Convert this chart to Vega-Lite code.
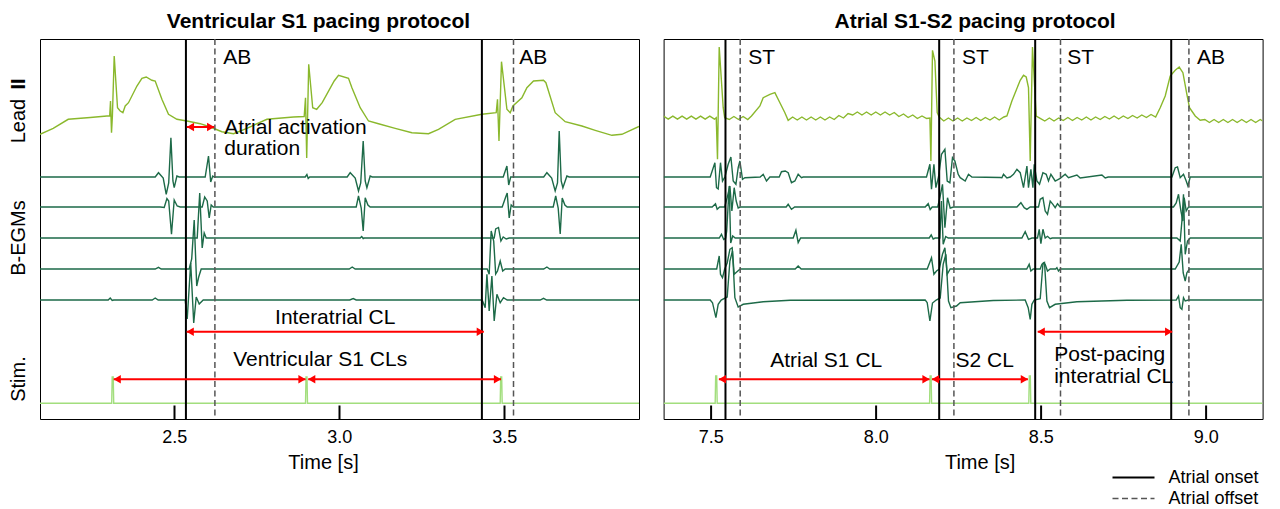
{
"$schema": "https://vega.github.io/schema/vega-lite/v6.json",
"autosize": {"type": "pad"},
"padding": {"left": 8, "top": 10, "right": 0, "bottom": 0},
"bounds": "flush",
"spacing": 24.6,
"resolve": {"scale": {"x": "independent", "y": "independent"}},
"datasets": {
"tr": [
{"p":"V","ch":"lead","t":2.0933,"v":284.7},{"p":"V","ch":"lead","t":2.1333,"v":290.7},{"p":"V","ch":"lead","t":2.1788,"v":299.7},{"p":"V","ch":"lead","t":2.2455,"v":301.5},{"p":"V","ch":"lead","t":2.2961,"v":303},{"p":"V","ch":"lead","t":2.3045,"v":303},{"p":"V","ch":"lead","t":2.3070,"v":318},{"p":"V","ch":"lead","t":2.3100,"v":286.3},{"p":"V","ch":"lead","t":2.3127,"v":303},{"p":"V","ch":"lead","t":2.3182,"v":363},{"p":"V","ch":"lead","t":2.3282,"v":311.3},{"p":"V","ch":"lead","t":2.3364,"v":308},{"p":"V","ch":"lead","t":2.3445,"v":306.3},{"p":"V","ch":"lead","t":2.3515,"v":313},{"p":"V","ch":"lead","t":2.3615,"v":316.3},{"p":"V","ch":"lead","t":2.3870,"v":333},{"p":"V","ch":"lead","t":2.4021,"v":340.7},{"p":"V","ch":"lead","t":2.4152,"v":342},{"p":"V","ch":"lead","t":2.4324,"v":338.7},{"p":"V","ch":"lead","t":2.4424,"v":338},{"p":"V","ch":"lead","t":2.4627,"v":319.7},{"p":"V","ch":"lead","t":2.4827,"v":304.7},{"p":"V","ch":"lead","t":2.5082,"v":299.7},{"p":"V","ch":"lead","t":2.5385,"v":298},{"p":"V","ch":"lead","t":2.5788,"v":295.3},{"p":"V","ch":"lead","t":2.6091,"v":292},{"p":"V","ch":"lead","t":2.6445,"v":287.3},{"p":"V","ch":"lead","t":2.6797,"v":285.3},{"p":"V","ch":"lead","t":2.7203,"v":290.7},{"p":"V","ch":"lead","t":2.7809,"v":299.7},{"p":"V","ch":"lead","t":2.8615,"v":302},{"p":"V","ch":"lead","t":2.8939,"v":302.5},{"p":"V","ch":"lead","t":2.8979,"v":321.3},{"p":"V","ch":"lead","t":2.9015,"v":261},{"p":"V","ch":"lead","t":2.9076,"v":354.7},{"p":"V","ch":"lead","t":2.9197,"v":311.3},{"p":"V","ch":"lead","t":2.9318,"v":309.7},{"p":"V","ch":"lead","t":2.9485,"v":316.3},{"p":"V","ch":"lead","t":2.9848,"v":338},{"p":"V","ch":"lead","t":2.9979,"v":343.7},{"p":"V","ch":"lead","t":3.0282,"v":340.7},{"p":"V","ch":"lead","t":3.0385,"v":331.3},{"p":"V","ch":"lead","t":3.0636,"v":311.3},{"p":"V","ch":"lead","t":3.0888,"v":298},{"p":"V","ch":"lead","t":3.1191,"v":295.3},{"p":"V","ch":"lead","t":3.1697,"v":290.7},{"p":"V","ch":"lead","t":3.2203,"v":286.3},{"p":"V","ch":"lead","t":3.2706,"v":285.3},{"p":"V","ch":"lead","t":3.3009,"v":289.7},{"p":"V","ch":"lead","t":3.3515,"v":299.7},{"p":"V","ch":"lead","t":3.4324,"v":304.7},{"p":"V","ch":"lead","t":3.4758,"v":306.3},{"p":"V","ch":"lead","t":3.4797,"v":319.7},{"p":"V","ch":"lead","t":3.4842,"v":278},{"p":"V","ch":"lead","t":3.4918,"v":357.3},{"p":"V","ch":"lead","t":3.5082,"v":309.7},{"p":"V","ch":"lead","t":3.5182,"v":306.3},{"p":"V","ch":"lead","t":3.5264,"v":313},{"p":"V","ch":"lead","t":3.5536,"v":321.3},{"p":"V","ch":"lead","t":3.5688,"v":331.3},{"p":"V","ch":"lead","t":3.5888,"v":338},{"p":"V","ch":"lead","t":3.6191,"v":338.7},{"p":"V","ch":"lead","t":3.6264,"v":336.3},{"p":"V","ch":"lead","t":3.6545,"v":306.3},{"p":"V","ch":"lead","t":3.6848,"v":297.3},{"p":"V","ch":"lead","t":3.7355,"v":293},{"p":"V","ch":"lead","t":3.7758,"v":288.7},{"p":"V","ch":"lead","t":3.8264,"v":283.7},{"p":"V","ch":"lead","t":3.8567,"v":284.7},{"p":"V","ch":"lead","t":3.9085,"v":292.5},
{"p":"V","ch":"e1","t":2.0933,"v":242},{"p":"V","ch":"e1","t":2.4424,"v":242},{"p":"V","ch":"e1","t":2.4524,"v":246.3},{"p":"V","ch":"e1","t":2.4667,"v":241},{"p":"V","ch":"e1","t":2.4758,"v":224.7},{"p":"V","ch":"e1","t":2.4833,"v":236},{"p":"V","ch":"e1","t":2.4900,"v":281.3},{"p":"V","ch":"e1","t":2.4961,"v":238},{"p":"V","ch":"e1","t":2.5000,"v":231.3},{"p":"V","ch":"e1","t":2.5082,"v":243},{"p":"V","ch":"e1","t":2.5152,"v":242},{"p":"V","ch":"e1","t":2.5939,"v":242},{"p":"V","ch":"e1","t":2.6039,"v":263},{"p":"V","ch":"e1","t":2.6106,"v":237},{"p":"V","ch":"e1","t":2.6167,"v":243},{"p":"V","ch":"e1","t":2.6212,"v":242},{"p":"V","ch":"e1","t":2.8970,"v":242},{"p":"V","ch":"e1","t":2.9021,"v":244.5},{"p":"V","ch":"e1","t":2.9061,"v":240.5},{"p":"V","ch":"e1","t":2.9106,"v":242},{"p":"V","ch":"e1","t":3.0242,"v":242},{"p":"V","ch":"e1","t":3.0333,"v":246.3},{"p":"V","ch":"e1","t":3.0485,"v":241},{"p":"V","ch":"e1","t":3.0585,"v":228},{"p":"V","ch":"e1","t":3.0652,"v":236},{"p":"V","ch":"e1","t":3.0727,"v":278},{"p":"V","ch":"e1","t":3.0788,"v":238},{"p":"V","ch":"e1","t":3.0839,"v":231.3},{"p":"V","ch":"e1","t":3.0939,"v":243},{"p":"V","ch":"e1","t":3.1000,"v":242},{"p":"V","ch":"e1","t":3.4970,"v":242},{"p":"V","ch":"e1","t":3.5082,"v":253},{"p":"V","ch":"e1","t":3.5136,"v":234},{"p":"V","ch":"e1","t":3.5197,"v":242},{"p":"V","ch":"e1","t":3.6197,"v":242},{"p":"V","ch":"e1","t":3.6294,"v":246.3},{"p":"V","ch":"e1","t":3.6439,"v":241},{"p":"V","ch":"e1","t":3.6545,"v":228},{"p":"V","ch":"e1","t":3.6615,"v":236},{"p":"V","ch":"e1","t":3.6667,"v":288},{"p":"V","ch":"e1","t":3.6727,"v":238},{"p":"V","ch":"e1","t":3.6779,"v":231.3},{"p":"V","ch":"e1","t":3.6900,"v":243},{"p":"V","ch":"e1","t":3.6970,"v":242},{"p":"V","ch":"e1","t":3.9085,"v":242},
{"p":"V","ch":"e2","t":2.0933,"v":212},{"p":"V","ch":"e2","t":2.4576,"v":212},{"p":"V","ch":"e2","t":2.4697,"v":211.5},{"p":"V","ch":"e2","t":2.4779,"v":220.5},{"p":"V","ch":"e2","t":2.4833,"v":218},{"p":"V","ch":"e2","t":2.4918,"v":184.7},{"p":"V","ch":"e2","t":2.5000,"v":219},{"p":"V","ch":"e2","t":2.5091,"v":213},{"p":"V","ch":"e2","t":2.5182,"v":212},{"p":"V","ch":"e2","t":2.5848,"v":212},{"p":"V","ch":"e2","t":2.5924,"v":222},{"p":"V","ch":"e2","t":2.6000,"v":218},{"p":"V","ch":"e2","t":2.6061,"v":201},{"p":"V","ch":"e2","t":2.6121,"v":214},{"p":"V","ch":"e2","t":2.6182,"v":212},{"p":"V","ch":"e2","t":3.0515,"v":212},{"p":"V","ch":"e2","t":3.0585,"v":223},{"p":"V","ch":"e2","t":3.0667,"v":211},{"p":"V","ch":"e2","t":3.0727,"v":188},{"p":"V","ch":"e2","t":3.0788,"v":221.3},{"p":"V","ch":"e2","t":3.0870,"v":214},{"p":"V","ch":"e2","t":3.0939,"v":212},{"p":"V","ch":"e2","t":3.4939,"v":212},{"p":"V","ch":"e2","t":3.5045,"v":222},{"p":"V","ch":"e2","t":3.5091,"v":226},{"p":"V","ch":"e2","t":3.5152,"v":201},{"p":"V","ch":"e2","t":3.5212,"v":214},{"p":"V","ch":"e2","t":3.5273,"v":212},{"p":"V","ch":"e2","t":3.6485,"v":212},{"p":"V","ch":"e2","t":3.6561,"v":223},{"p":"V","ch":"e2","t":3.6636,"v":211},{"p":"V","ch":"e2","t":3.6697,"v":185},{"p":"V","ch":"e2","t":3.6758,"v":221},{"p":"V","ch":"e2","t":3.6839,"v":214},{"p":"V","ch":"e2","t":3.6909,"v":212},{"p":"V","ch":"e2","t":3.9085,"v":212},
{"p":"V","ch":"e3","t":2.0933,"v":181},{"p":"V","ch":"e3","t":2.5697,"v":181},{"p":"V","ch":"e3","t":2.5773,"v":226},{"p":"V","ch":"e3","t":2.5848,"v":171},{"p":"V","ch":"e3","t":2.5909,"v":186},{"p":"V","ch":"e3","t":2.5970,"v":181},{"p":"V","ch":"e3","t":3.0636,"v":181},{"p":"V","ch":"e3","t":3.0682,"v":182.5},{"p":"V","ch":"e3","t":3.0727,"v":180.5},{"p":"V","ch":"e3","t":3.0758,"v":181},{"p":"V","ch":"e3","t":3.4697,"v":181},{"p":"V","ch":"e3","t":3.4742,"v":190},{"p":"V","ch":"e3","t":3.4827,"v":191.5},{"p":"V","ch":"e3","t":3.4900,"v":178},{"p":"V","ch":"e3","t":3.4970,"v":182},{"p":"V","ch":"e3","t":3.5061,"v":180},{"p":"V","ch":"e3","t":3.5152,"v":181},{"p":"V","ch":"e3","t":3.9085,"v":181},
{"p":"V","ch":"e4","t":2.0933,"v":150},{"p":"V","ch":"e4","t":2.4424,"v":150},{"p":"V","ch":"e4","t":2.4524,"v":151.7},{"p":"V","ch":"e4","t":2.4606,"v":150},{"p":"V","ch":"e4","t":2.5455,"v":150},{"p":"V","ch":"e4","t":2.5530,"v":160},{"p":"V","ch":"e4","t":2.5606,"v":199},{"p":"V","ch":"e4","t":2.5682,"v":133},{"p":"V","ch":"e4","t":2.5742,"v":142},{"p":"V","ch":"e4","t":2.5818,"v":150},{"p":"V","ch":"e4","t":3.0303,"v":150},{"p":"V","ch":"e4","t":3.0394,"v":152},{"p":"V","ch":"e4","t":3.0485,"v":150},{"p":"V","ch":"e4","t":3.4485,"v":150},{"p":"V","ch":"e4","t":3.4545,"v":144.7},{"p":"V","ch":"e4","t":3.4606,"v":188},{"p":"V","ch":"e4","t":3.4682,"v":178},{"p":"V","ch":"e4","t":3.4742,"v":145},{"p":"V","ch":"e4","t":3.4797,"v":148},{"p":"V","ch":"e4","t":3.4879,"v":158},{"p":"V","ch":"e4","t":3.4955,"v":148},{"p":"V","ch":"e4","t":3.5030,"v":150},{"p":"V","ch":"e4","t":3.6197,"v":150},{"p":"V","ch":"e4","t":3.6294,"v":152},{"p":"V","ch":"e4","t":3.6379,"v":150},{"p":"V","ch":"e4","t":3.9085,"v":150},
{"p":"V","ch":"e5","t":2.0933,"v":119},{"p":"V","ch":"e5","t":2.3000,"v":119},{"p":"V","ch":"e5","t":2.3061,"v":121},{"p":"V","ch":"e5","t":2.3121,"v":118.5},{"p":"V","ch":"e5","t":2.3167,"v":119},{"p":"V","ch":"e5","t":2.4333,"v":119},{"p":"V","ch":"e5","t":2.4424,"v":121},{"p":"V","ch":"e5","t":2.4515,"v":119},{"p":"V","ch":"e5","t":2.5333,"v":119},{"p":"V","ch":"e5","t":2.5394,"v":100},{"p":"V","ch":"e5","t":2.5500,"v":156},{"p":"V","ch":"e5","t":2.5591,"v":96},{"p":"V","ch":"e5","t":2.5667,"v":122},{"p":"V","ch":"e5","t":2.5758,"v":115},{"p":"V","ch":"e5","t":2.5879,"v":119},{"p":"V","ch":"e5","t":3.0318,"v":119},{"p":"V","ch":"e5","t":3.0424,"v":120.5},{"p":"V","ch":"e5","t":3.0515,"v":119},{"p":"V","ch":"e5","t":3.4333,"v":119},{"p":"V","ch":"e5","t":3.4424,"v":111.3},{"p":"V","ch":"e5","t":3.4476,"v":144.7},{"p":"V","ch":"e5","t":3.4545,"v":108},{"p":"V","ch":"e5","t":3.4627,"v":143},{"p":"V","ch":"e5","t":3.4697,"v":98},{"p":"V","ch":"e5","t":3.4779,"v":124.7},{"p":"V","ch":"e5","t":3.4879,"v":116.3},{"p":"V","ch":"e5","t":3.4979,"v":121.3},{"p":"V","ch":"e5","t":3.5091,"v":119},{"p":"V","ch":"e5","t":3.6091,"v":119},{"p":"V","ch":"e5","t":3.6191,"v":120.7},{"p":"V","ch":"e5","t":3.6288,"v":119},{"p":"V","ch":"e5","t":3.9085,"v":119},
{"p":"V","ch":"stim","t":2.0933,"v":15.7},{"p":"V","ch":"stim","t":2.3106,"v":15.7},{"p":"V","ch":"stim","t":2.3121,"v":42},{"p":"V","ch":"stim","t":2.3152,"v":42},{"p":"V","ch":"stim","t":2.3167,"v":15.7},{"p":"V","ch":"stim","t":2.8979,"v":15.7},{"p":"V","ch":"stim","t":2.8994,"v":42},{"p":"V","ch":"stim","t":2.9024,"v":42},{"p":"V","ch":"stim","t":2.9039,"v":15.7},{"p":"V","ch":"stim","t":3.4879,"v":15.7},{"p":"V","ch":"stim","t":3.4894,"v":42},{"p":"V","ch":"stim","t":3.4924,"v":42},{"p":"V","ch":"stim","t":3.4939,"v":15.7},{"p":"V","ch":"stim","t":3.9085,"v":15.7},
{"p":"A","ch":"lead","t":7.357,"v":302.8},{"p":"A","ch":"lead","t":7.371,"v":299.8},{"p":"A","ch":"lead","t":7.385,"v":302.8},{"p":"A","ch":"lead","t":7.399,"v":299.8},{"p":"A","ch":"lead","t":7.413,"v":302.8},{"p":"A","ch":"lead","t":7.427,"v":299.8},{"p":"A","ch":"lead","t":7.441,"v":302.8},{"p":"A","ch":"lead","t":7.455,"v":299.8},{"p":"A","ch":"lead","t":7.469,"v":302.8},{"p":"A","ch":"lead","t":7.483,"v":299.8},{"p":"A","ch":"lead","t":7.497,"v":302.8},{"p":"A","ch":"lead","t":7.511,"v":299.8},{"p":"A","ch":"lead","t":7.5165,"v":301.3},{"p":"A","ch":"lead","t":7.5203,"v":259.7},{"p":"A","ch":"lead","t":7.5255,"v":372},{"p":"A","ch":"lead","t":7.5376,"v":311.3},{"p":"A","ch":"lead","t":7.5421,"v":301.3},{"p":"A","ch":"lead","t":7.556,"v":299.5},{"p":"A","ch":"lead","t":7.570,"v":302.5},{"p":"A","ch":"lead","t":7.584,"v":299.5},{"p":"A","ch":"lead","t":7.598,"v":302.5},{"p":"A","ch":"lead","t":7.612,"v":299.5},{"p":"A","ch":"lead","t":7.6233,"v":303},{"p":"A","ch":"lead","t":7.6488,"v":313},{"p":"A","ch":"lead","t":7.6588,"v":321.3},{"p":"A","ch":"lead","t":7.6791,"v":324.7},{"p":"A","ch":"lead","t":7.6942,"v":326.3},{"p":"A","ch":"lead","t":7.7094,"v":316.3},{"p":"A","ch":"lead","t":7.7245,"v":306.3},{"p":"A","ch":"lead","t":7.7345,"v":298.7},{"p":"A","ch":"lead","t":7.748,"v":302},{"p":"A","ch":"lead","t":7.762,"v":299},{"p":"A","ch":"lead","t":7.776,"v":302},{"p":"A","ch":"lead","t":7.790,"v":299},{"p":"A","ch":"lead","t":7.804,"v":302},{"p":"A","ch":"lead","t":7.818,"v":299},{"p":"A","ch":"lead","t":7.832,"v":302},{"p":"A","ch":"lead","t":7.846,"v":299},{"p":"A","ch":"lead","t":7.860,"v":302},{"p":"A","ch":"lead","t":7.874,"v":299.5},{"p":"A","ch":"lead","t":7.888,"v":303.5},{"p":"A","ch":"lead","t":7.902,"v":301},{"p":"A","ch":"lead","t":7.916,"v":305.5},{"p":"A","ch":"lead","t":7.930,"v":304},{"p":"A","ch":"lead","t":7.944,"v":307},{"p":"A","ch":"lead","t":7.958,"v":304},{"p":"A","ch":"lead","t":7.972,"v":307},{"p":"A","ch":"lead","t":7.986,"v":304},{"p":"A","ch":"lead","t":8.000,"v":307},{"p":"A","ch":"lead","t":8.014,"v":304},{"p":"A","ch":"lead","t":8.028,"v":307},{"p":"A","ch":"lead","t":8.042,"v":304},{"p":"A","ch":"lead","t":8.056,"v":306.5},{"p":"A","ch":"lead","t":8.070,"v":302.5},{"p":"A","ch":"lead","t":8.084,"v":305},{"p":"A","ch":"lead","t":8.098,"v":301.5},{"p":"A","ch":"lead","t":8.112,"v":304},{"p":"A","ch":"lead","t":8.126,"v":300.5},{"p":"A","ch":"lead","t":8.140,"v":303},{"p":"A","ch":"lead","t":8.154,"v":300.5},{"p":"A","ch":"lead","t":8.1639,"v":301},{"p":"A","ch":"lead","t":8.1670,"v":258},{"p":"A","ch":"lead","t":8.1718,"v":368.7},{"p":"A","ch":"lead","t":8.1791,"v":358},{"p":"A","ch":"lead","t":8.1861,"v":306.3},{"p":"A","ch":"lead","t":8.1921,"v":302},{"p":"A","ch":"lead","t":8.206,"v":298},{"p":"A","ch":"lead","t":8.220,"v":301},{"p":"A","ch":"lead","t":8.234,"v":298},{"p":"A","ch":"lead","t":8.248,"v":301},{"p":"A","ch":"lead","t":8.262,"v":298},{"p":"A","ch":"lead","t":8.276,"v":301},{"p":"A","ch":"lead","t":8.290,"v":298.5},{"p":"A","ch":"lead","t":8.304,"v":301.5},{"p":"A","ch":"lead","t":8.318,"v":298.5},{"p":"A","ch":"lead","t":8.332,"v":301.5},{"p":"A","ch":"lead","t":8.346,"v":299},{"p":"A","ch":"lead","t":8.360,"v":302},{"p":"A","ch":"lead","t":8.374,"v":299},{"p":"A","ch":"lead","t":8.388,"v":302},{"p":"A","ch":"lead","t":8.3973,"v":303},{"p":"A","ch":"lead","t":8.4124,"v":318},{"p":"A","ch":"lead","t":8.4224,"v":326.3},{"p":"A","ch":"lead","t":8.4376,"v":338.7},{"p":"A","ch":"lead","t":8.4476,"v":343.7},{"p":"A","ch":"lead","t":8.4558,"v":342},{"p":"A","ch":"lead","t":8.4627,"v":331.3},{"p":"A","ch":"lead","t":8.4679,"v":258},{"p":"A","ch":"lead","t":8.4748,"v":372},{"p":"A","ch":"lead","t":8.4861,"v":303},{"p":"A","ch":"lead","t":8.4982,"v":300.7},{"p":"A","ch":"lead","t":8.512,"v":298},{"p":"A","ch":"lead","t":8.526,"v":301},{"p":"A","ch":"lead","t":8.540,"v":298},{"p":"A","ch":"lead","t":8.554,"v":301},{"p":"A","ch":"lead","t":8.568,"v":298.5},{"p":"A","ch":"lead","t":8.582,"v":301.5},{"p":"A","ch":"lead","t":8.596,"v":298.5},{"p":"A","ch":"lead","t":8.610,"v":301.5},{"p":"A","ch":"lead","t":8.624,"v":299},{"p":"A","ch":"lead","t":8.638,"v":302},{"p":"A","ch":"lead","t":8.652,"v":299},{"p":"A","ch":"lead","t":8.666,"v":302},{"p":"A","ch":"lead","t":8.680,"v":299.5},{"p":"A","ch":"lead","t":8.694,"v":302.5},{"p":"A","ch":"lead","t":8.708,"v":300},{"p":"A","ch":"lead","t":8.722,"v":303},{"p":"A","ch":"lead","t":8.736,"v":300},{"p":"A","ch":"lead","t":8.750,"v":303},{"p":"A","ch":"lead","t":8.764,"v":300.5},{"p":"A","ch":"lead","t":8.778,"v":303.5},{"p":"A","ch":"lead","t":8.792,"v":301},{"p":"A","ch":"lead","t":8.806,"v":304},{"p":"A","ch":"lead","t":8.820,"v":301.5},{"p":"A","ch":"lead","t":8.834,"v":304.5},{"p":"A","ch":"lead","t":8.848,"v":302},{"p":"A","ch":"lead","t":8.8618,"v":311.3},{"p":"A","ch":"lead","t":8.8770,"v":323},{"p":"A","ch":"lead","t":8.8921,"v":343},{"p":"A","ch":"lead","t":8.9073,"v":348.7},{"p":"A","ch":"lead","t":8.9194,"v":352},{"p":"A","ch":"lead","t":8.9306,"v":346.3},{"p":"A","ch":"lead","t":8.9427,"v":324.7},{"p":"A","ch":"lead","t":8.9506,"v":311.3},{"p":"A","ch":"lead","t":8.9679,"v":303},{"p":"A","ch":"lead","t":8.9830,"v":298.7},{"p":"A","ch":"lead","t":8.997,"v":299.5},{"p":"A","ch":"lead","t":9.011,"v":296.5},{"p":"A","ch":"lead","t":9.025,"v":299.5},{"p":"A","ch":"lead","t":9.039,"v":296.5},{"p":"A","ch":"lead","t":9.053,"v":299.5},{"p":"A","ch":"lead","t":9.067,"v":296.5},{"p":"A","ch":"lead","t":9.081,"v":299.5},{"p":"A","ch":"lead","t":9.095,"v":296.5},{"p":"A","ch":"lead","t":9.109,"v":299.5},{"p":"A","ch":"lead","t":9.123,"v":296.5},{"p":"A","ch":"lead","t":9.137,"v":299.5},{"p":"A","ch":"lead","t":9.151,"v":296.5},{"p":"A","ch":"lead","t":9.165,"v":299.5},{"p":"A","ch":"lead","t":9.1721,"v":298},
{"p":"A","ch":"e1","t":7.3570,"v":242},{"p":"A","ch":"e1","t":7.4982,"v":242},{"p":"A","ch":"e1","t":7.5124,"v":256.3},{"p":"A","ch":"e1","t":7.5173,"v":231.3},{"p":"A","ch":"e1","t":7.5224,"v":230},{"p":"A","ch":"e1","t":7.5294,"v":256.3},{"p":"A","ch":"e1","t":7.5355,"v":238},{"p":"A","ch":"e1","t":7.5427,"v":242},{"p":"A","ch":"e1","t":7.5527,"v":254.7},{"p":"A","ch":"e1","t":7.5609,"v":262},{"p":"A","ch":"e1","t":7.5679,"v":238},{"p":"A","ch":"e1","t":7.5761,"v":234.7},{"p":"A","ch":"e1","t":7.5830,"v":251.3},{"p":"A","ch":"e1","t":7.5882,"v":258},{"p":"A","ch":"e1","t":7.5961,"v":239.7},{"p":"A","ch":"e1","t":7.6033,"v":241.3},{"p":"A","ch":"e1","t":7.6497,"v":242},{"p":"A","ch":"e1","t":7.6588,"v":244.7},{"p":"A","ch":"e1","t":7.6688,"v":238},{"p":"A","ch":"e1","t":7.6791,"v":242},{"p":"A","ch":"e1","t":7.7073,"v":242},{"p":"A","ch":"e1","t":7.7142,"v":247.3},{"p":"A","ch":"e1","t":7.7255,"v":248},{"p":"A","ch":"e1","t":7.7345,"v":246.3},{"p":"A","ch":"e1","t":7.7445,"v":236.3},{"p":"A","ch":"e1","t":7.7548,"v":238},{"p":"A","ch":"e1","t":7.7648,"v":244.7},{"p":"A","ch":"e1","t":7.7748,"v":241.3},{"p":"A","ch":"e1","t":7.7800,"v":242},{"p":"A","ch":"e1","t":8.1536,"v":242},{"p":"A","ch":"e1","t":8.1639,"v":254.7},{"p":"A","ch":"e1","t":8.1688,"v":229.7},{"p":"A","ch":"e1","t":8.1761,"v":254.7},{"p":"A","ch":"e1","t":8.1821,"v":231.3},{"p":"A","ch":"e1","t":8.1900,"v":242},{"p":"A","ch":"e1","t":8.1991,"v":264.7},{"p":"A","ch":"e1","t":8.2094,"v":269.7},{"p":"A","ch":"e1","t":8.2164,"v":238},{"p":"A","ch":"e1","t":8.2245,"v":236.3},{"p":"A","ch":"e1","t":8.2324,"v":261.3},{"p":"A","ch":"e1","t":8.2397,"v":258},{"p":"A","ch":"e1","t":8.2497,"v":244.7},{"p":"A","ch":"e1","t":8.2558,"v":241.3},{"p":"A","ch":"e1","t":8.2709,"v":238},{"p":"A","ch":"e1","t":8.2809,"v":244.7},{"p":"A","ch":"e1","t":8.2912,"v":242},{"p":"A","ch":"e1","t":8.3770,"v":241.5},{"p":"A","ch":"e1","t":8.3821,"v":241.3},{"p":"A","ch":"e1","t":8.3870,"v":244.7},{"p":"A","ch":"e1","t":8.3973,"v":241},{"p":"A","ch":"e1","t":8.4073,"v":242},{"p":"A","ch":"e1","t":8.4173,"v":244.7},{"p":"A","ch":"e1","t":8.4276,"v":249.7},{"p":"A","ch":"e1","t":8.4376,"v":246.3},{"p":"A","ch":"e1","t":8.4476,"v":231.3},{"p":"A","ch":"e1","t":8.4527,"v":242},{"p":"A","ch":"e1","t":8.4579,"v":253},{"p":"A","ch":"e1","t":8.4627,"v":231.3},{"p":"A","ch":"e1","t":8.4700,"v":249.7},{"p":"A","ch":"e1","t":8.4761,"v":231.3},{"p":"A","ch":"e1","t":8.4800,"v":254.7},{"p":"A","ch":"e1","t":8.4882,"v":238},{"p":"A","ch":"e1","t":8.4961,"v":234.7},{"p":"A","ch":"e1","t":8.5064,"v":246.3},{"p":"A","ch":"e1","t":8.5164,"v":244.7},{"p":"A","ch":"e1","t":8.5233,"v":238},{"p":"A","ch":"e1","t":8.5306,"v":244.7},{"p":"A","ch":"e1","t":8.5436,"v":238},{"p":"A","ch":"e1","t":8.5588,"v":240.7},{"p":"A","ch":"e1","t":8.5739,"v":244.7},{"p":"A","ch":"e1","t":8.5839,"v":241.3},{"p":"A","ch":"e1","t":8.6094,"v":244},{"p":"A","ch":"e1","t":8.6194,"v":241},{"p":"A","ch":"e1","t":8.6852,"v":244},{"p":"A","ch":"e1","t":8.6952,"v":241},{"p":"A","ch":"e1","t":8.7042,"v":242},{"p":"A","ch":"e1","t":8.8973,"v":242},{"p":"A","ch":"e1","t":8.9073,"v":251.3},{"p":"A","ch":"e1","t":8.9142,"v":252},{"p":"A","ch":"e1","t":8.9224,"v":241.3},{"p":"A","ch":"e1","t":8.9324,"v":244.7},{"p":"A","ch":"e1","t":8.9406,"v":238},{"p":"A","ch":"e1","t":8.9458,"v":233},{"p":"A","ch":"e1","t":8.9527,"v":242},{"p":"A","ch":"e1","t":9.1721,"v":242},
{"p":"A","ch":"e2","t":7.3570,"v":212},{"p":"A","ch":"e2","t":7.5042,"v":212},{"p":"A","ch":"e2","t":7.5142,"v":215.3},{"p":"A","ch":"e2","t":7.5194,"v":209.7},{"p":"A","ch":"e2","t":7.5270,"v":212},{"p":"A","ch":"e2","t":7.5421,"v":212},{"p":"A","ch":"e2","t":7.5497,"v":221.3},{"p":"A","ch":"e2","t":7.5579,"v":233},{"p":"A","ch":"e2","t":7.5639,"v":208},{"p":"A","ch":"e2","t":7.5709,"v":231.3},{"p":"A","ch":"e2","t":7.5770,"v":218},{"p":"A","ch":"e2","t":7.5830,"v":211},{"p":"A","ch":"e2","t":7.5891,"v":212},{"p":"A","ch":"e2","t":7.7285,"v":212},{"p":"A","ch":"e2","t":7.7345,"v":214.7},{"p":"A","ch":"e2","t":7.7445,"v":209.7},{"p":"A","ch":"e2","t":7.7542,"v":212},{"p":"A","ch":"e2","t":8.1497,"v":212},{"p":"A","ch":"e2","t":8.1588,"v":215.3},{"p":"A","ch":"e2","t":8.1648,"v":209.5},{"p":"A","ch":"e2","t":8.1709,"v":212},{"p":"A","ch":"e2","t":8.1876,"v":212},{"p":"A","ch":"e2","t":8.1942,"v":221.3},{"p":"A","ch":"e2","t":8.2021,"v":234.7},{"p":"A","ch":"e2","t":8.2094,"v":191.3},{"p":"A","ch":"e2","t":8.2173,"v":221.3},{"p":"A","ch":"e2","t":8.2255,"v":211},{"p":"A","ch":"e2","t":8.2355,"v":212},{"p":"A","ch":"e2","t":8.4276,"v":212},{"p":"A","ch":"e2","t":8.4397,"v":216.3},{"p":"A","ch":"e2","t":8.4497,"v":211.3},{"p":"A","ch":"e2","t":8.4579,"v":209.7},{"p":"A","ch":"e2","t":8.4679,"v":212},{"p":"A","ch":"e2","t":8.4930,"v":212},{"p":"A","ch":"e2","t":8.4982,"v":219.7},{"p":"A","ch":"e2","t":8.5064,"v":221.3},{"p":"A","ch":"e2","t":8.5133,"v":208},{"p":"A","ch":"e2","t":8.5203,"v":204.7},{"p":"A","ch":"e2","t":8.5285,"v":218},{"p":"A","ch":"e2","t":8.5367,"v":214.7},{"p":"A","ch":"e2","t":8.5436,"v":211.3},{"p":"A","ch":"e2","t":8.5506,"v":215.3},{"p":"A","ch":"e2","t":8.5588,"v":212},{"p":"A","ch":"e2","t":8.9021,"v":212},{"p":"A","ch":"e2","t":8.9103,"v":216},{"p":"A","ch":"e2","t":8.9173,"v":224.7},{"p":"A","ch":"e2","t":8.9245,"v":208},{"p":"A","ch":"e2","t":8.9306,"v":198},{"p":"A","ch":"e2","t":8.9345,"v":221.3},{"p":"A","ch":"e2","t":8.9406,"v":208},{"p":"A","ch":"e2","t":8.9476,"v":212},{"p":"A","ch":"e2","t":9.1721,"v":212},
{"p":"A","ch":"e3","t":7.3570,"v":181},{"p":"A","ch":"e3","t":7.5255,"v":181},{"p":"A","ch":"e3","t":7.5324,"v":184.7},{"p":"A","ch":"e3","t":7.5391,"v":179.5},{"p":"A","ch":"e3","t":7.5452,"v":181},{"p":"A","ch":"e3","t":7.5482,"v":188},{"p":"A","ch":"e3","t":7.5521,"v":211.3},{"p":"A","ch":"e3","t":7.5558,"v":233},{"p":"A","ch":"e3","t":7.5603,"v":176},{"p":"A","ch":"e3","t":7.5664,"v":183},{"p":"A","ch":"e3","t":7.5739,"v":181},{"p":"A","ch":"e3","t":7.7497,"v":181},{"p":"A","ch":"e3","t":7.7579,"v":188.7},{"p":"A","ch":"e3","t":7.7648,"v":176.3},{"p":"A","ch":"e3","t":7.7724,"v":181},{"p":"A","ch":"e3","t":8.1618,"v":181},{"p":"A","ch":"e3","t":8.1679,"v":184},{"p":"A","ch":"e3","t":8.1739,"v":180},{"p":"A","ch":"e3","t":8.1800,"v":181},{"p":"A","ch":"e3","t":8.1942,"v":181},{"p":"A","ch":"e3","t":8.1991,"v":218},{"p":"A","ch":"e3","t":8.2042,"v":174.7},{"p":"A","ch":"e3","t":8.2118,"v":182.5},{"p":"A","ch":"e3","t":8.2194,"v":181},{"p":"A","ch":"e3","t":8.4427,"v":181},{"p":"A","ch":"e3","t":8.4527,"v":187.3},{"p":"A","ch":"e3","t":8.4627,"v":179.7},{"p":"A","ch":"e3","t":8.4730,"v":181},{"p":"A","ch":"e3","t":8.4900,"v":181},{"p":"A","ch":"e3","t":8.4952,"v":189.7},{"p":"A","ch":"e3","t":8.5003,"v":175.3},{"p":"A","ch":"e3","t":8.5064,"v":189.7},{"p":"A","ch":"e3","t":8.5133,"v":181},{"p":"A","ch":"e3","t":8.5203,"v":182.7},{"p":"A","ch":"e3","t":8.5285,"v":180.3},{"p":"A","ch":"e3","t":8.5345,"v":181},{"p":"A","ch":"e3","t":8.9124,"v":181},{"p":"A","ch":"e3","t":8.9224,"v":178},{"p":"A","ch":"e3","t":8.9276,"v":198},{"p":"A","ch":"e3","t":8.9324,"v":224.7},{"p":"A","ch":"e3","t":8.9376,"v":164.7},{"p":"A","ch":"e3","t":8.9445,"v":178},{"p":"A","ch":"e3","t":8.9527,"v":181},{"p":"A","ch":"e3","t":9.1721,"v":181},
{"p":"A","ch":"e4","t":7.3570,"v":150},{"p":"A","ch":"e4","t":7.5179,"v":150},{"p":"A","ch":"e4","t":7.5255,"v":163},{"p":"A","ch":"e4","t":7.5294,"v":144.7},{"p":"A","ch":"e4","t":7.5355,"v":141.3},{"p":"A","ch":"e4","t":7.5421,"v":150},{"p":"A","ch":"e4","t":7.5497,"v":156},{"p":"A","ch":"e4","t":7.5579,"v":169.7},{"p":"A","ch":"e4","t":7.5648,"v":171.3},{"p":"A","ch":"e4","t":7.5709,"v":144.7},{"p":"A","ch":"e4","t":7.5785,"v":147},{"p":"A","ch":"e4","t":7.5891,"v":150},{"p":"A","ch":"e4","t":7.7558,"v":150},{"p":"A","ch":"e4","t":7.7648,"v":153},{"p":"A","ch":"e4","t":7.7739,"v":150},{"p":"A","ch":"e4","t":8.1558,"v":150},{"p":"A","ch":"e4","t":8.1688,"v":161.3},{"p":"A","ch":"e4","t":8.1761,"v":144.7},{"p":"A","ch":"e4","t":8.1839,"v":148},{"p":"A","ch":"e4","t":8.1921,"v":150},{"p":"A","ch":"e4","t":8.2021,"v":164.7},{"p":"A","ch":"e4","t":8.2094,"v":171.3},{"p":"A","ch":"e4","t":8.2164,"v":144.7},{"p":"A","ch":"e4","t":8.2255,"v":150},{"p":"A","ch":"e4","t":8.4573,"v":150},{"p":"A","ch":"e4","t":8.4648,"v":154.7},{"p":"A","ch":"e4","t":8.4700,"v":148},{"p":"A","ch":"e4","t":8.4770,"v":150},{"p":"A","ch":"e4","t":8.4982,"v":150},{"p":"A","ch":"e4","t":8.5033,"v":154.7},{"p":"A","ch":"e4","t":8.5082,"v":156.3},{"p":"A","ch":"e4","t":8.5133,"v":154.7},{"p":"A","ch":"e4","t":8.5203,"v":148},{"p":"A","ch":"e4","t":8.5285,"v":150},{"p":"A","ch":"e4","t":8.5452,"v":150},{"p":"A","ch":"e4","t":8.5488,"v":151.3},{"p":"A","ch":"e4","t":8.5536,"v":148},{"p":"A","ch":"e4","t":8.5588,"v":150},{"p":"A","ch":"e4","t":8.9073,"v":150},{"p":"A","ch":"e4","t":8.9194,"v":157},{"p":"A","ch":"e4","t":8.9255,"v":174.7},{"p":"A","ch":"e4","t":8.9315,"v":146},{"p":"A","ch":"e4","t":8.9376,"v":138},{"p":"A","ch":"e4","t":8.9427,"v":146.3},{"p":"A","ch":"e4","t":8.9506,"v":150},{"p":"A","ch":"e4","t":9.1721,"v":150},
{"p":"A","ch":"e5","t":7.3570,"v":119},{"p":"A","ch":"e5","t":7.4982,"v":119},{"p":"A","ch":"e5","t":7.5052,"v":116.3},{"p":"A","ch":"e5","t":7.5155,"v":101.3},{"p":"A","ch":"e5","t":7.5224,"v":114.7},{"p":"A","ch":"e5","t":7.5315,"v":119},{"p":"A","ch":"e5","t":7.5497,"v":122},{"p":"A","ch":"e5","t":7.5579,"v":158},{"p":"A","ch":"e5","t":7.5658,"v":168},{"p":"A","ch":"e5","t":7.5730,"v":121.3},{"p":"A","ch":"e5","t":7.5830,"v":112},{"p":"A","ch":"e5","t":7.5982,"v":114.7},{"p":"A","ch":"e5","t":7.6588,"v":117.3},{"p":"A","ch":"e5","t":7.7406,"v":118.7},{"p":"A","ch":"e5","t":8.1497,"v":119},{"p":"A","ch":"e5","t":8.1558,"v":116.3},{"p":"A","ch":"e5","t":8.1639,"v":98},{"p":"A","ch":"e5","t":8.1718,"v":116},{"p":"A","ch":"e5","t":8.1830,"v":119},{"p":"A","ch":"e5","t":8.1952,"v":121},{"p":"A","ch":"e5","t":8.2042,"v":154.7},{"p":"A","ch":"e5","t":8.2124,"v":164.7},{"p":"A","ch":"e5","t":8.2203,"v":118},{"p":"A","ch":"e5","t":8.2276,"v":111.3},{"p":"A","ch":"e5","t":8.2445,"v":113},{"p":"A","ch":"e5","t":8.2558,"v":116.3},{"p":"A","ch":"e5","t":8.3558,"v":118.5},{"p":"A","ch":"e5","t":8.4527,"v":119},{"p":"A","ch":"e5","t":8.4618,"v":111.3},{"p":"A","ch":"e5","t":8.4679,"v":99.7},{"p":"A","ch":"e5","t":8.4730,"v":114.7},{"p":"A","ch":"e5","t":8.4800,"v":119},{"p":"A","ch":"e5","t":8.4982,"v":120.3},{"p":"A","ch":"e5","t":8.5064,"v":154.7},{"p":"A","ch":"e5","t":8.5112,"v":156.3},{"p":"A","ch":"e5","t":8.5185,"v":118},{"p":"A","ch":"e5","t":8.5264,"v":111.3},{"p":"A","ch":"e5","t":8.5436,"v":114.7},{"p":"A","ch":"e5","t":8.6094,"v":117.3},{"p":"A","ch":"e5","t":8.7609,"v":118.7},{"p":"A","ch":"e5","t":8.9103,"v":119},{"p":"A","ch":"e5","t":8.9173,"v":123},{"p":"A","ch":"e5","t":8.9224,"v":111.3},{"p":"A","ch":"e5","t":8.9276,"v":109.7},{"p":"A","ch":"e5","t":8.9324,"v":121.3},{"p":"A","ch":"e5","t":8.9376,"v":118},{"p":"A","ch":"e5","t":8.9476,"v":119},{"p":"A","ch":"e5","t":9.1721,"v":119},
{"p":"A","ch":"stim","t":7.3570,"v":15.7},{"p":"A","ch":"stim","t":7.5133,"v":15.7},{"p":"A","ch":"stim","t":7.5148,"v":43},{"p":"A","ch":"stim","t":7.5179,"v":43},{"p":"A","ch":"stim","t":7.5194,"v":15.7},{"p":"A","ch":"stim","t":8.1630,"v":15.7},{"p":"A","ch":"stim","t":8.1645,"v":43},{"p":"A","ch":"stim","t":8.1676,"v":43},{"p":"A","ch":"stim","t":8.1691,"v":15.7},{"p":"A","ch":"stim","t":8.4636,"v":15.7},{"p":"A","ch":"stim","t":8.4652,"v":43},{"p":"A","ch":"stim","t":8.4682,"v":43},{"p":"A","ch":"stim","t":8.4697,"v":15.7},{"p":"A","ch":"stim","t":9.1721,"v":15.7}
],
"mk": [
{"p":"V","t":2.5355,"type":"Atrial onset"},{"p":"V","t":2.6233,"type":"Atrial offset"},{"p":"V","t":3.4324,"type":"Atrial onset"},{"p":"V","t":3.5282,"type":"Atrial offset"},
{"p":"A","t":7.5445,"type":"Atrial onset"},{"p":"A","t":7.5891,"type":"Atrial offset"},{"p":"A","t":8.1921,"type":"Atrial onset"},{"p":"A","t":8.2367,"type":"Atrial offset"},{"p":"A","t":8.4830,"type":"Atrial onset"},{"p":"A","t":8.5597,"type":"Atrial offset"},{"p":"A","t":8.8952,"type":"Atrial onset"},{"p":"A","t":8.9488,"type":"Atrial offset"}
],
"ar": [
{"p":"V","t":2.5385,"t2":2.6212,"v":292},{"p":"V","t":2.5379,"t2":3.4382,"v":87.3},{"p":"V","t":2.3167,"t2":2.8979,"v":39.7},{"p":"V","t":2.9061,"t2":3.4903,"v":39.7},
{"p":"A","t":7.5245,"t2":8.1627,"v":39.7},{"p":"A","t":8.1703,"t2":8.4609,"v":39.7},{"p":"A","t":8.4906,"t2":8.8982,"v":87.3}
],
"hl": [
{"p":"V","t":2.5385,"v":292},{"p":"V","t":2.5379,"v":87.3},{"p":"V","t":2.3167,"v":39.7},{"p":"V","t":2.9061,"v":39.7},
{"p":"A","t":7.5245,"v":39.7},{"p":"A","t":8.1703,"v":39.7},{"p":"A","t":8.4906,"v":87.3}
],
"hr": [
{"p":"V","t":2.6212,"v":292},{"p":"V","t":3.4382,"v":87.3},{"p":"V","t":2.8979,"v":39.7},{"p":"V","t":3.4903,"v":39.7},
{"p":"A","t":8.1627,"v":39.7},{"p":"A","t":8.4609,"v":39.7},{"p":"A","t":8.8982,"v":87.3}
],
"tg": [
{"p":"V","t":2.6485,"v":361,"label":"AB"},{"p":"V","t":3.5455,"v":361,"label":"AB"},
{"p":"A","t":7.6133,"v":361,"label":"ST"},{"p":"A","t":8.2609,"v":361,"label":"ST"},{"p":"A","t":8.5800,"v":361,"label":"ST"},{"p":"A","t":8.9730,"v":361,"label":"AB"}
],
"nl": [
{"p":"V","t":2.6515,"v":290.7,"label":"Atrial activation"},{"p":"V","t":2.6515,"v":269.7,"label":"duration"},
{"p":"A","t":8.5406,"v":64,"label":"Post-pacing"},{"p":"A","t":8.5406,"v":42,"label":"interatrial CL"}
],
"nc": [
{"p":"V","t":2.9879,"v":101.3,"label":"Interatrial CL"},{"p":"V","t":2.9424,"v":58.7,"label":"Ventricular S1 CLs"},
{"p":"A","t":7.8497,"v":58,"label":"Atrial S1 CL"},{"p":"A","t":8.3300,"v":58,"label":"S2 CL"}
],
"sd": [
{"t":2.0303,"v":298,"label":"Lead"},{"t":2.0303,"v":181,"label":"B-EGMs"},{"t":2.0303,"v":40,"label":"Stim."}
],
"sb": [
{"t":2.0303,"v":335,"label":"II"}
]
},
"hconcat": [
{
"width": 599, "height": 380,
"title": {"text": "Ventricular S1 pacing protocol", "dx": -21},
"encoding": {"x": {"field": "t", "type": "quantitative", "scale": {"domain": [2.0933, 3.9085], "nice": false, "zero": false}, "axis": {"values": [2.5, 3, 3.5], "format": ".1f", "title": "Time [s]", "titleX": 283}}},
"layer": [
{"data": {"name": "tr"}, "transform": [{"filter": "datum.p === 'V' && datum.ch === 'lead'"}], "mark": {"type": "line", "color": "#8ab82c", "strokeWidth": 1.4, "clip": true}, "encoding": {"y": {"field": "v", "type": "quantitative", "scale": {"domain": [0, 380], "nice": false, "zero": false}, "axis": null}}},
{"data": {"name": "tr"}, "transform": [{"filter": "datum.p === 'V' && datum.ch !== 'lead' && datum.ch !== 'stim'"}], "mark": {"type": "line", "color": "#1d6a48", "strokeWidth": 1.4, "clip": true}, "encoding": {"y": {"field": "v", "type": "quantitative", "scale": {"domain": [0, 380], "nice": false, "zero": false}, "axis": null}, "detail": {"field": "ch"}}},
{"data": {"name": "tr"}, "transform": [{"filter": "datum.p === 'V' && datum.ch === 'stim'"}], "mark": {"type": "line", "color": "#a2de7d", "strokeWidth": 1.4, "clip": true}, "encoding": {"y": {"field": "v", "type": "quantitative", "scale": {"domain": [0, 380], "nice": false, "zero": false}, "axis": null}}},
{"data": {"name": "mk"}, "transform": [{"filter": "datum.p === 'V'"}], "mark": {"type": "rule"}, "encoding": {
"color": {"field": "type", "type": "nominal", "scale": {"domain": ["Atrial onset", "Atrial offset"], "range": ["#000000", "#555555"]}, "legend": {"title": null, "orient": "none", "legendX": 1082, "legendY": 427, "symbolType": "M-2,0H2", "symbolSize": 441, "labelFontSize": 18, "labelOffset": 23.5, "rowPadding": 0, "padding": 0, "labelColor": "#000"}},
"strokeDash": {"field": "type", "type": "nominal", "scale": {"domain": ["Atrial onset", "Atrial offset"], "range": [[1, 0], [6, 3.5]]}, "legend": {"title": null, "orient": "none", "legendX": 1082, "legendY": 427, "symbolType": "M-2,0H2", "symbolSize": 441, "labelFontSize": 18, "labelOffset": 23.5, "rowPadding": 0, "padding": 0, "labelColor": "#000"}},
"strokeWidth": {"field": "type", "type": "ordinal", "scale": {"domain": ["Atrial onset", "Atrial offset"], "range": [2, 1.5]}, "legend": {"title": null, "orient": "none", "legendX": 1082, "legendY": 427, "symbolType": "M-2,0H2", "symbolSize": 441, "labelFontSize": 18, "labelOffset": 23.5, "rowPadding": 0, "padding": 0, "labelColor": "#000"}}
}},
{"data": {"name": "ar"}, "transform": [{"filter": "datum.p === 'V'"}], "mark": {"type": "rule", "color": "#ff0000", "strokeWidth": 2}, "encoding": {"x2": {"field": "t2"}, "y": {"field": "v", "type": "quantitative", "scale": {"domain": [0, 380], "nice": false, "zero": false}, "axis": null}}},
{"data": {"name": "hl"}, "transform": [{"filter": "datum.p === 'V'"}], "mark": {"type": "point", "shape": "triangle-left", "filled": true, "color": "#ff0000", "opacity": 1, "size": 70, "strokeWidth": 0, "xOffset": 3.5}, "encoding": {"y": {"field": "v", "type": "quantitative", "scale": {"domain": [0, 380], "nice": false, "zero": false}, "axis": null}}},
{"data": {"name": "hr"}, "transform": [{"filter": "datum.p === 'V'"}], "mark": {"type": "point", "shape": "triangle-right", "filled": true, "color": "#ff0000", "opacity": 1, "size": 70, "strokeWidth": 0, "xOffset": -3.5}, "encoding": {"y": {"field": "v", "type": "quantitative", "scale": {"domain": [0, 380], "nice": false, "zero": false}, "axis": null}}},
{"data": {"name": "tg"}, "transform": [{"filter": "datum.p === 'V'"}], "mark": {"type": "text", "align": "left", "baseline": "middle", "fontSize": 21}, "encoding": {"y": {"field": "v", "type": "quantitative", "scale": {"domain": [0, 380], "nice": false, "zero": false}, "axis": null}, "text": {"field": "label"}}},
{"data": {"name": "nl"}, "transform": [{"filter": "datum.p === 'V'"}], "mark": {"type": "text", "align": "left", "baseline": "middle", "fontSize": 21}, "encoding": {"y": {"field": "v", "type": "quantitative", "scale": {"domain": [0, 380], "nice": false, "zero": false}, "axis": null}, "text": {"field": "label"}}},
{"data": {"name": "nc"}, "transform": [{"filter": "datum.p === 'V'"}], "mark": {"type": "text", "align": "center", "baseline": "middle", "fontSize": 21}, "encoding": {"y": {"field": "v", "type": "quantitative", "scale": {"domain": [0, 380], "nice": false, "zero": false}, "axis": null}, "text": {"field": "label"}}},
{"data": {"name": "sd"}, "mark": {"type": "text", "align": "center", "baseline": "middle", "fontSize": 20, "angle": 270}, "encoding": {"y": {"field": "v", "type": "quantitative", "scale": {"domain": [0, 380], "nice": false, "zero": false}, "axis": null}, "text": {"field": "label"}}},
{"data": {"name": "sb"}, "mark": {"type": "text", "align": "center", "baseline": "middle", "fontSize": 20, "fontWeight": "bold", "angle": 270}, "encoding": {"y": {"field": "v", "type": "quantitative", "scale": {"domain": [0, 380], "nice": false, "zero": false}, "axis": null}, "text": {"field": "label"}}}
]
},
{
"width": 599, "height": 380,
"title": {"text": "Atrial S1-S2 pacing protocol", "dx": 12},
"encoding": {"x": {"field": "t", "type": "quantitative", "scale": {"domain": [7.357, 9.1721], "nice": false, "zero": false}, "axis": {"values": [7.5, 8, 8.5, 9], "format": ".1f", "title": "Time [s]", "titleX": 316}}},
"layer": [
{"data": {"name": "tr"}, "transform": [{"filter": "datum.p === 'A' && datum.ch === 'lead'"}], "mark": {"type": "line", "color": "#8ab82c", "strokeWidth": 1.4, "clip": true}, "encoding": {"y": {"field": "v", "type": "quantitative", "scale": {"domain": [0, 380], "nice": false, "zero": false}, "axis": null}}},
{"data": {"name": "tr"}, "transform": [{"filter": "datum.p === 'A' && datum.ch !== 'lead' && datum.ch !== 'stim'"}], "mark": {"type": "line", "color": "#1d6a48", "strokeWidth": 1.4, "clip": true}, "encoding": {"y": {"field": "v", "type": "quantitative", "scale": {"domain": [0, 380], "nice": false, "zero": false}, "axis": null}, "detail": {"field": "ch"}}},
{"data": {"name": "tr"}, "transform": [{"filter": "datum.p === 'A' && datum.ch === 'stim'"}], "mark": {"type": "line", "color": "#a2de7d", "strokeWidth": 1.4, "clip": true}, "encoding": {"y": {"field": "v", "type": "quantitative", "scale": {"domain": [0, 380], "nice": false, "zero": false}, "axis": null}}},
{"data": {"name": "mk"}, "transform": [{"filter": "datum.p === 'A'"}], "mark": {"type": "rule"}, "encoding": {
"color": {"field": "type", "type": "nominal", "scale": {"domain": ["Atrial onset", "Atrial offset"], "range": ["#000000", "#555555"]}, "legend": {"title": null, "orient": "none", "legendX": 1082, "legendY": 427, "symbolType": "M-2,0H2", "symbolSize": 441, "labelFontSize": 18, "labelOffset": 23.5, "rowPadding": 0, "padding": 0, "labelColor": "#000"}},
"strokeDash": {"field": "type", "type": "nominal", "scale": {"domain": ["Atrial onset", "Atrial offset"], "range": [[1, 0], [6, 3.5]]}, "legend": {"title": null, "orient": "none", "legendX": 1082, "legendY": 427, "symbolType": "M-2,0H2", "symbolSize": 441, "labelFontSize": 18, "labelOffset": 23.5, "rowPadding": 0, "padding": 0, "labelColor": "#000"}},
"strokeWidth": {"field": "type", "type": "ordinal", "scale": {"domain": ["Atrial onset", "Atrial offset"], "range": [2, 1.5]}, "legend": {"title": null, "orient": "none", "legendX": 1082, "legendY": 427, "symbolType": "M-2,0H2", "symbolSize": 441, "labelFontSize": 18, "labelOffset": 23.5, "rowPadding": 0, "padding": 0, "labelColor": "#000"}}
}},
{"data": {"name": "ar"}, "transform": [{"filter": "datum.p === 'A'"}], "mark": {"type": "rule", "color": "#ff0000", "strokeWidth": 2}, "encoding": {"x2": {"field": "t2"}, "y": {"field": "v", "type": "quantitative", "scale": {"domain": [0, 380], "nice": false, "zero": false}, "axis": null}}},
{"data": {"name": "hl"}, "transform": [{"filter": "datum.p === 'A'"}], "mark": {"type": "point", "shape": "triangle-left", "filled": true, "color": "#ff0000", "opacity": 1, "size": 70, "strokeWidth": 0, "xOffset": 3.5}, "encoding": {"y": {"field": "v", "type": "quantitative", "scale": {"domain": [0, 380], "nice": false, "zero": false}, "axis": null}}},
{"data": {"name": "hr"}, "transform": [{"filter": "datum.p === 'A'"}], "mark": {"type": "point", "shape": "triangle-right", "filled": true, "color": "#ff0000", "opacity": 1, "size": 70, "strokeWidth": 0, "xOffset": -3.5}, "encoding": {"y": {"field": "v", "type": "quantitative", "scale": {"domain": [0, 380], "nice": false, "zero": false}, "axis": null}}},
{"data": {"name": "tg"}, "transform": [{"filter": "datum.p === 'A'"}], "mark": {"type": "text", "align": "left", "baseline": "middle", "fontSize": 21}, "encoding": {"y": {"field": "v", "type": "quantitative", "scale": {"domain": [0, 380], "nice": false, "zero": false}, "axis": null}, "text": {"field": "label"}}},
{"data": {"name": "nl"}, "transform": [{"filter": "datum.p === 'A'"}], "mark": {"type": "text", "align": "left", "baseline": "middle", "fontSize": 21}, "encoding": {"y": {"field": "v", "type": "quantitative", "scale": {"domain": [0, 380], "nice": false, "zero": false}, "axis": null}, "text": {"field": "label"}}},
{"data": {"name": "nc"}, "transform": [{"filter": "datum.p === 'A'"}], "mark": {"type": "text", "align": "center", "baseline": "middle", "fontSize": 21}, "encoding": {"y": {"field": "v", "type": "quantitative", "scale": {"domain": [0, 380], "nice": false, "zero": false}, "axis": null}, "text": {"field": "label"}}}
]
}
],
"config": {
"font": "Liberation Sans",
"view": {"stroke": "#000000", "strokeWidth": 1},
"axis": {"domain": false, "grid": false, "ticks": true, "tickColor": "#000000", "tickWidth": 2, "tickSize": -14, "labelFontSize": 18, "labelColor": "#000000", "labelPadding": 23, "labelFont": "Liberation Sans", "titleFont": "Liberation Sans", "titleFontSize": 20, "titleFontWeight": "normal", "titleColor": "#000000", "titleBaseline": "alphabetic", "titleY": 49},
"title": {"font": "Liberation Sans", "fontSize": 21, "fontWeight": "bold", "color": "#000000", "anchor": "middle", "baseline": "alphabetic", "offset": 6},
"text": {"font": "Liberation Sans", "color": "#000000"},
"legend": {"labelFont": "Liberation Sans"}
}
}
